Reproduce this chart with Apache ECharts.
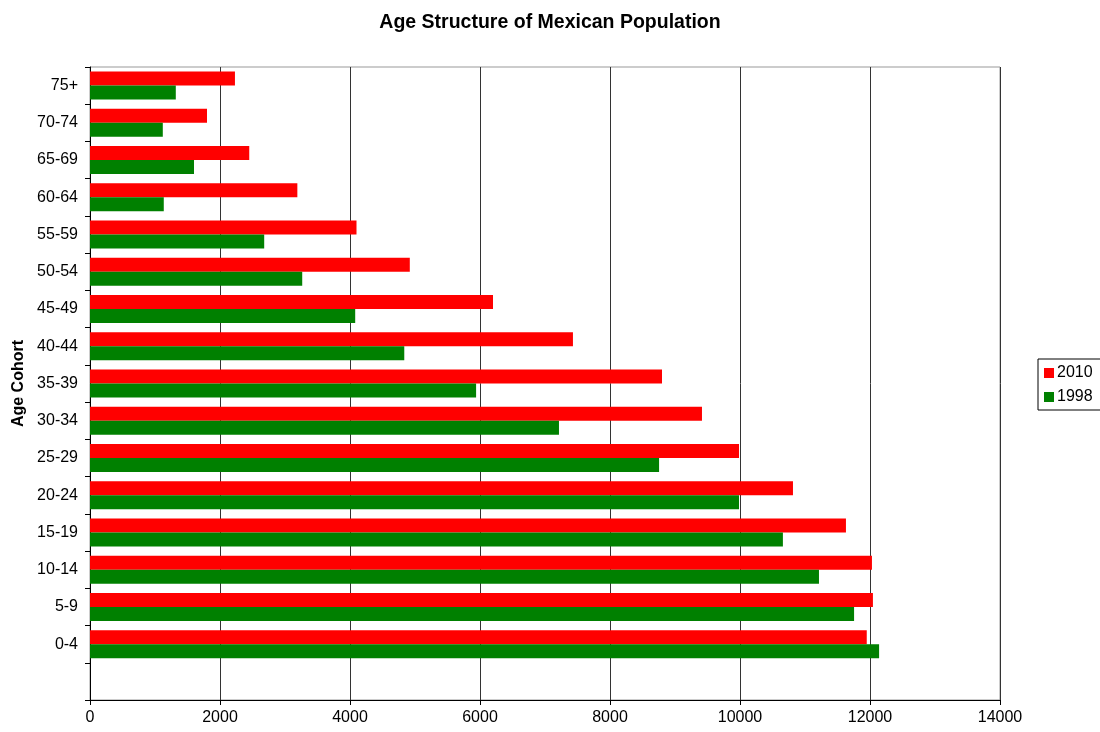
<!DOCTYPE html>
<html>
<head>
<meta charset="utf-8">
<script src="https://cdn.jsdelivr.net/npm/echarts@6/dist/echarts.min.js"></script>
<style>
  html, body { margin: 0; padding: 0; background: #fff; }
  #chart { width: 1100px; height: 732px; }
</style>
</head>
<body>
<div id="chart"></div>
<script>
// categories bottom to top, with the empty slot under 0-4
var cohorts = ['', '0-4', '5-9', '10-14', '15-19', '20-24', '25-29', '30-34', '35-39',
  '40-44', '45-49', '50-54', '55-59', '60-64', '65-69', '70-74', '75+'];
var pop2010 = [null, 11950, 12045, 12030, 11630, 10815, 9985, 9415, 8800,
  7430, 6200, 4920, 4100, 3190, 2450, 1800, 2230];
var pop1998 = [null, 12140, 11755, 11215, 10660, 9985, 8755, 7215, 5940,
  4835, 4080, 3265, 2680, 1135, 1600, 1120, 1320];
var xTicks = { min: 0, max: 14000, step: 2000 };

var font = 'Liberation Sans, Arial, sans-serif';
var chart = echarts.init(document.getElementById('chart'));

var option = {
  animation: false,
  textStyle: { fontFamily: font },
  title: {
    text: 'Age Structure of Mexican Population',
    left: 'center',
    top: 8,
    textStyle: { fontSize: 19.5, fontWeight: 'bold', color: '#000', fontFamily: font }
  },
  legend: {
    data: ['2010', '1998'],
    orient: 'vertical',
    left: 1038,
    top: 359,
    icon: 'rect',
    itemWidth: 10,
    itemHeight: 10,
    itemGap: 8,
    borderColor: '#000',
    borderWidth: 1,
    padding: [6, 10, 5, 6],
    textStyle: { fontSize: 16, color: '#000', fontFamily: font, padding: [0, 0, 0, -2] }
  },
  grid: {
    left: 90,
    right: 100,
    top: 67,
    bottom: 32,
    show: true,
    borderColor: '#999',
    borderWidth: 1
  },
  xAxis: {
    type: 'value',
    min: xTicks.min,
    max: xTicks.max,
    interval: xTicks.step,
    axisLine: { show: true, lineStyle: { color: '#000', width: 1 } },
    axisTick: { show: true, length: 5, lineStyle: { color: '#000' } },
    axisLabel: {
      fontSize: 16, color: '#000', margin: 10, fontFamily: font,
      formatter: function (v) { return String(v); }
    },
    splitLine: { show: true, lineStyle: { color: '#333', width: 1 } }
  },
  yAxis: {
    type: 'category',
    data: cohorts,
    name: 'Age Cohort',
    nameLocation: 'middle',
    nameGap: 62,
    nameRotate: 90,
    nameTextStyle: { fontSize: 16, fontWeight: 'bold', color: '#000', fontFamily: font },
    axisLine: { show: true, lineStyle: { color: '#000', width: 1 } },
    axisTick: { show: true, length: 5, lineStyle: { color: '#000' } },
    axisLabel: { fontSize: 16, color: '#000', margin: 12, fontFamily: font },
    splitLine: { show: false }
  },
  series: [
    {
      name: '2010',
      type: 'bar',
      data: pop2010,
      barWidth: 14,
      barGap: '0%',
      itemStyle: { color: '#ff0000' }
    },
    {
      name: '1998',
      type: 'bar',
      data: pop1998,
      barWidth: 14,
      barGap: '0%',
      itemStyle: { color: '#008000' }
    }
  ]
};

chart.setOption(option);
</script>
</body>
</html>
